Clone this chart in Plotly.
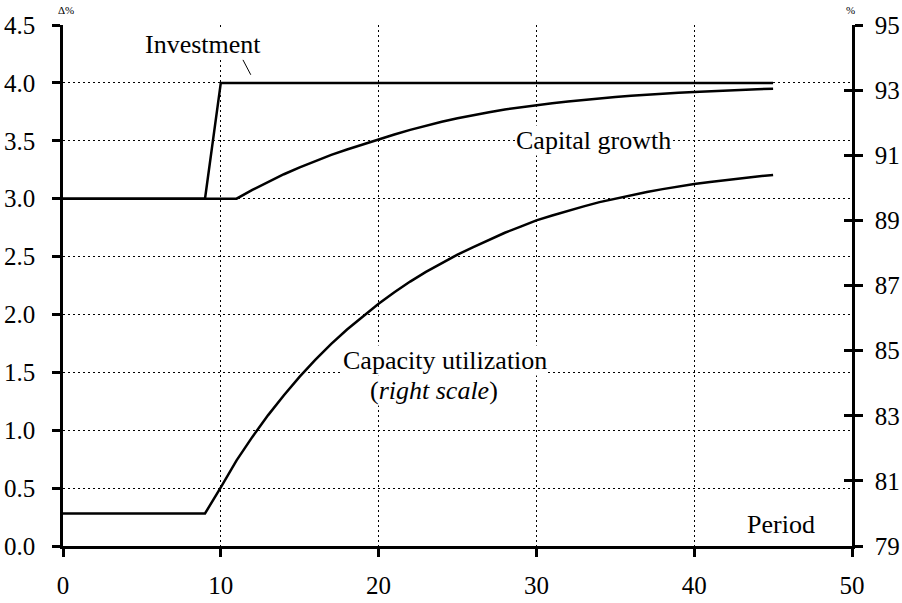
import plotly.graph_objects as go

periods = list(range(0, 46))

investment = [3.0] * 10 + [4.0] * 36

capital_growth = [3.0] * 12 + [
    3.076, 3.146, 3.211, 3.271, 3.326, 3.378, 3.425, 3.469, 3.51,
    3.554, 3.594, 3.631, 3.664, 3.694, 3.722, 3.747, 3.77, 3.79, 3.809,
    3.825, 3.84, 3.854, 3.866, 3.878, 3.888, 3.898, 3.906, 3.914, 3.921,
    3.928, 3.934, 3.94, 3.945, 3.949,
]

capacity_utilization = [80.0] * 10 + [
    80.80, 81.63, 82.35, 83.02, 83.63, 84.20, 84.72, 85.21, 85.65, 86.06,
    86.44, 86.79, 87.12, 87.42, 87.69, 87.95, 88.18, 88.40, 88.62, 88.81,
    89.00, 89.15, 89.30, 89.43, 89.56, 89.67, 89.78, 89.87, 89.96, 90.05,
    90.12, 90.18, 90.24, 90.30, 90.35, 90.39,
]

left_ticks = [0.0, 0.5, 1.0, 1.5, 2.0, 2.5, 3.0, 3.5, 4.0, 4.5]
right_ticks = [79, 81, 83, 85, 87, 89, 91, 93, 95]
x_ticks = [0, 10, 20, 30, 40, 50]

FONT = "Liberation Serif"
LINE = dict(color="black", width=2.5)

fig = go.Figure()
fig.add_trace(go.Scatter(x=periods, y=investment, mode="lines", line=LINE,
                         hoverinfo="skip", showlegend=False))
fig.add_trace(go.Scatter(x=periods, y=capital_growth, mode="lines", line=LINE,
                         hoverinfo="skip", showlegend=False))
fig.add_trace(go.Scatter(x=periods, y=capacity_utilization, mode="lines", line=LINE,
                         yaxis="y2", hoverinfo="skip", showlegend=False))
# invisible trace carrying the inner-tick overlay axis
fig.add_trace(go.Scatter(x=periods, y=capacity_utilization, mode="lines",
                         line=dict(width=0), opacity=0, yaxis="y3",
                         hoverinfo="skip", showlegend=False))

grid = dict(showgrid=True, gridcolor="black", gridwidth=1, griddash="2px,3px")
tickfont = dict(family=FONT, size=25, color="black")

fig.update_layout(
    template="none",
    width=902, height=603,
    margin=dict(l=63, r=50, t=25, b=57, autoexpand=False),
    paper_bgcolor="white", plot_bgcolor="white",
    font=dict(family=FONT, size=25, color="black"),
    xaxis=dict(range=[0, 50], tickvals=x_ticks, ticks="outside", ticklen=8,
               tickwidth=2.5, tickcolor="black", showline=True, linecolor="black",
               linewidth=2.5, zeroline=False, ticklabelstandoff=7, automargin=False,
               tickfont=tickfont, **grid),
    yaxis=dict(range=[0, 4.5], tickvals=left_ticks, tickformat=".1f",
               ticks="outside", ticklen=8, tickwidth=2.5, tickcolor="black",
               showline=True, linecolor="black", linewidth=2.5, zeroline=False,
               ticklabelstandoff=12, automargin=False, tickfont=tickfont, **grid),
    yaxis2=dict(range=[79, 95], tickvals=right_ticks, overlaying="y", side="right",
                ticks="outside", ticklen=8, tickwidth=2.5, tickcolor="black",
                showline=True, linecolor="black", linewidth=2.5, showgrid=False,
                zeroline=False, ticklabelstandoff=7, automargin=False,
                tickfont=tickfont),
    yaxis3=dict(range=[79, 95], tickvals=right_ticks, overlaying="y", side="right",
                ticks="inside", ticklen=8, tickwidth=2.5, tickcolor="black",
                showline=False, showgrid=False, zeroline=False, showticklabels=False,
                automargin=False),
)

fig.add_shape(type="line", xref="x", yref="y", x0=11.4, y0=4.2, x1=11.9, y1=4.07,
              line=dict(color="black", width=1))

ann = dict(showarrow=False, bgcolor="white", borderpad=0,
           font=dict(family=FONT, size=26, color="black"))
fig.add_annotation(x=8.9, y=4.33, xref="x", yref="y", text="Investment", **ann)
fig.add_annotation(x=33.6, y=3.5, xref="x", yref="y", text="Capital growth", **ann)
fig.add_annotation(x=23.5, y=1.345, xref="x", yref="y", text="(<i>right scale</i>)", **ann)
fig.add_annotation(x=24.2, y=1.6, xref="x", yref="y", text="Capacity utilization", **ann)
fig.add_annotation(x=45.5, y=0.19, xref="x", yref="y", text="Period", **ann)

# small unit labels above the axes, placed in pixel terms
pw, ph = 902 - 63 - 50, 603 - 25 - 57
unit = dict(showarrow=False, xref="paper", yref="paper", xanchor="center",
            yanchor="middle", font=dict(family=FONT, size=11, color="black"))
fig.add_annotation(x=(66 - 63) / pw, y=1 + (25 - 10) / ph, text="Δ%", **unit)
fig.add_annotation(x=(850 - 63) / pw, y=1 + (25 - 10) / ph, text="%", **unit)

fig.write_html("out.html", config={"displayModeBar": False},
               post_script="document.body.style.margin='0';"
                           "document.body.style.overflow='hidden';")
